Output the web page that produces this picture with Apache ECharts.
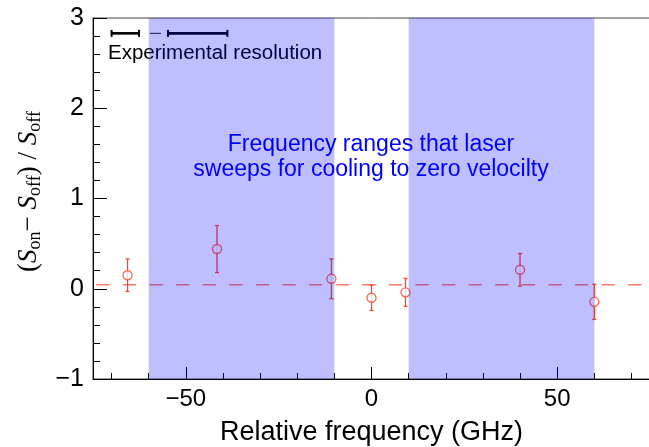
<!DOCTYPE html>
<html><head><meta charset="utf-8">
<script src="https://cdn.jsdelivr.net/npm/echarts@6/dist/echarts.min.js"></script>
<style>html,body{margin:0;padding:0;background:#fff}#c{width:649px;height:447px}</style>
</head><body><div id="c"></div>
<script>
// Data
const freqs = [-65.7, -41.6, -10.8, 0, 9.15, 40, 60];
const ratios = [0.15, 0.44, 0.11, -0.10, -0.04, 0.21, -0.145];
const errors = [0.18, 0.26, 0.22, 0.14, 0.155, 0.18, 0.195];
const bandStart = [-60, 10];
const bandEnd = [-10, 60];
const baselineY = 0.045;
const resStart = [-70, -54.8];
const resEnd = [-62.6, -38.8];
const resConnector = [-59.7, -56.7];
const resY = 2.83;
const xMajorTicks = [-50, 0, 50];
const xMinorTicks = [-70, -60, -40, -30, -20, -10, 10, 20, 30, 40, 60, 70];

const chart = echarts.init(document.getElementById('c'), null, {renderer: 'canvas'});
const minus = v => String(v).replace('-', '\u2212');
const pointColor = '#ff4428';

const errData = freqs.map((x, i) => [x, ratios[i] - errors[i], ratios[i] + errors[i]]);
const ptData = freqs.map((x, i) => [x, ratios[i]]);
const bandData = bandStart.map((s, i) => [s, bandEnd[i]]);
const resData = resStart.map((s, i) => [s, resEnd[i], resY]);

const option = {
  animation: false,
  backgroundColor: '#fff',
  grid: {left: 93, right: -1, top: 18, bottom: 68, outerBoundsMode: 'none', containLabel: false,
    show: true, borderColor: '#444', borderWidth: 1, backgroundColor: 'transparent'},
  xAxis: [{
    type: 'value', min: -75, max: 75, z: 3,
    axisLine: {show: true, onZero: false, lineStyle: {color: '#000', width: 1}},
    axisTick: {show: true, inside: true, length: 12, customValues: xMajorTicks, lineStyle: {color: '#000'}},
    axisLabel: {customValues: xMajorTicks, formatter: minus, fontSize: 24, color: '#000', margin: 8, fontFamily: 'Liberation Sans'},
    splitLine: {show: false},
    name: 'Relative frequency (GHz)', nameLocation: 'middle', nameGap: 40,
    nameTextStyle: {fontSize: 27, color: '#000', fontFamily: 'Liberation Sans'}
  }, {
    type: 'value', min: -75, max: 75, position: 'bottom', z: 3,
    axisLine: {show: false, onZero: false},
    axisTick: {show: true, inside: true, length: 6, customValues: xMinorTicks, lineStyle: {color: '#000'}},
    axisLabel: {show: false},
    splitLine: {show: false}
  }],
  yAxis: {
    type: 'value', min: -1, max: 3, interval: 1, z: 3,
    axisLine: {show: true, onZero: false, lineStyle: {color: '#000', width: 1}},
    axisTick: {show: true, inside: true, length: 14, lineStyle: {color: '#000'}},
    minorTick: {show: true, splitNumber: 5, length: 7, lineStyle: {color: '#000'}},
    axisLabel: {formatter: minus, fontSize: 25, color: '#000', margin: 9, fontFamily: 'Liberation Sans'},
    splitLine: {show: false},
    name: '{t|(}{i|S}{sub|on}{t|\u2212 }{i|S}{sub|off}{t|) / }{i|S}{sub|off}',
    nameLocation: 'middle', nameGap: 49, nameRotate: 90,
    nameTextStyle: {
      padding: [0, 0, 0, 14],
      rich: {
        t: {fontSize: 27, fontFamily: 'Liberation Serif', color: '#000', lineHeight: 31},
        i: {fontSize: 27, fontFamily: 'Liberation Serif', fontStyle: 'italic', color: '#000', lineHeight: 31},
        sub: {fontSize: 18, fontFamily: 'Liberation Serif', color: '#000', lineHeight: 18, verticalAlign: 'bottom'}
      }
    }
  },
  graphic: [
    {type: 'text', z: 1, x: 108, y: 53, style: {text: 'Experimental resolution', fontSize: 20.5, fontFamily: 'Liberation Sans', fill: '#000', verticalAlign: 'middle'}},
    {type: 'text', z: 1, x: 371, y: 132, style: {text: 'Frequency ranges that laser\nsweeps for cooling to zero velocilty', align: 'center', verticalAlign: 'top', fontSize: 23, lineHeight: 25, fontFamily: 'Liberation Sans', fill: '#0000ff'}}
  ],
  series: [
    {
      type: 'line', data: [[-75, baselineY], [75, baselineY]], symbol: 'none', z: 2,
      lineStyle: {color: '#ff7a66', width: 1.5, type: [13.3, 13.3], dashOffset: 23.4}
    },
    {
      type: 'custom', z: 3, data: errData,
      renderItem: (params, api) => {
        const x = api.value(0);
        const lo = api.coord([x, api.value(1)]);
        const hi = api.coord([x, api.value(2)]);
        const st = {stroke: pointColor, lineWidth: 1.3};
        return {type: 'group', children: [
          {type: 'line', shape: {x1: lo[0], y1: lo[1], x2: hi[0], y2: hi[1]}, style: st},
          {type: 'line', shape: {x1: lo[0] - 2, y1: lo[1], x2: lo[0] + 2, y2: lo[1]}, style: st},
          {type: 'line', shape: {x1: hi[0] - 2, y1: hi[1], x2: hi[0] + 2, y2: hi[1]}, style: st}
        ]};
      }
    },
    {
      type: 'scatter', z: 4, data: ptData, symbol: 'circle', symbolSize: 9,
      itemStyle: {color: '#fff', borderColor: pointColor, borderWidth: 1.4}
    },
    {
      type: 'custom', z: 4, data: resData,
      renderItem: (params, api) => {
        const a = api.coord([api.value(0), api.value(2)]);
        const b = api.coord([api.value(1), api.value(2)]);
        const st = {stroke: '#000', lineWidth: 2.6};
        const cs = {stroke: '#000', lineWidth: 2};
        return {type: 'group', children: [
          {type: 'line', shape: {x1: a[0], y1: a[1], x2: b[0], y2: b[1]}, style: st},
          {type: 'line', shape: {x1: a[0], y1: a[1] - 3.5, x2: a[0], y2: a[1] + 3.5}, style: cs},
          {type: 'line', shape: {x1: b[0], y1: b[1] - 3.5, x2: b[0], y2: b[1] + 3.5}, style: cs}
        ]};
      }
    },
    {
      type: 'line', data: [[resConnector[0], resY], [resConnector[1], resY]], symbol: 'none', z: 4,
      lineStyle: {color: '#222', width: 1}
    },
    {
      type: 'custom', z: 10, data: bandData,
      renderItem: (params, api) => {
        const p1 = api.coord([api.value(0), 3]);
        const p2 = api.coord([api.value(1), -1]);
        return {type: 'rect', shape: {x: p1[0], y: p1[1], width: p2[0] - p1[0], height: p2[1] - p1[1]},
          style: {fill: 'rgba(0,0,255,0.25)'}};
      }
    }
  ]
};
chart.setOption(option);
</script></body></html>
